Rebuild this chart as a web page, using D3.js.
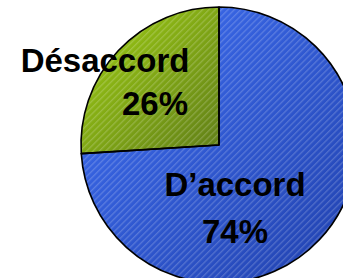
<!DOCTYPE html>
<html>
<head>
<meta charset="utf-8">
<script src="https://cdn.jsdelivr.net/npm/d3@7"></script>
<style>
  body { margin: 0; background: #fff; }
  svg { display: block; }
</style>
</head>
<body>
<script>
// data
var categories = ["D\u2019accord", "Désaccord"];
var values = [74, 26];
var percentLabels = ["74%", "26%"];

var width = 343, height = 278;
var cx = 219, cy = 145, radius = 138;

var svg = d3.select("body").append("svg").attr("width", width).attr("height", height);
var defs = svg.append("defs");

// gradients per slice bbox: light top-left, dark bottom-right
var grads = [
  {id: "gBlue", c0: "#3f70f4", c1: "#2040ac"},
  {id: "gGreen", c0: "#a0d012", c1: "#607e18"}
];
grads.forEach(function(g) {
  var lg = defs.append("linearGradient").attr("id", g.id)
    .attr("x1", "0%").attr("y1", "0%")
    .attr("x2", "100%").attr("y2", "100%");
  lg.append("stop").attr("offset", "0%").attr("stop-color", g.c0);
  lg.append("stop").attr("offset", "100%").attr("stop-color", g.c1);
});

// diagonal hatch
var pat = defs.append("pattern").attr("id", "hatch")
  .attr("patternUnits", "userSpaceOnUse")
  .attr("width", 4.5).attr("height", 4.5)
  .attr("patternTransform", "rotate(45)");
pat.append("rect").attr("x", 0).attr("y", 0).attr("width", 1.3).attr("height", 4.5)
  .attr("fill", "#ffffff").attr("fill-opacity", 0.2);

var fills = ["url(#gBlue)", "url(#gGreen)"];

var pie = d3.pie().sort(null).value(function(d) { return d; });
var arc = d3.arc().innerRadius(0).outerRadius(radius);
var arcs = pie(values);

var g = svg.append("g").attr("transform", "translate(" + cx + "," + cy + ")");

g.selectAll("path.slice").data(arcs).enter().append("path")
  .attr("class", "slice")
  .attr("d", arc)
  .attr("fill", function(d, i) { return fills[i]; });

g.selectAll("path.hatch").data(arcs).enter().append("path")
  .attr("class", "hatch")
  .attr("d", arc)
  .attr("fill", "url(#hatch)");

g.selectAll("path.outline").data(arcs).enter().append("path")
  .attr("class", "outline")
  .attr("d", arc)
  .attr("fill", "none")
  .attr("stroke", "#000")
  .attr("stroke-width", 1.6)
  .attr("stroke-linejoin", "round");

// label layout (relative to pie centre)
var labelPos = [
  {name: [16, 51], pct: [16, 98]},
  {name: [-114, -73], pct: [-64, -30]}
];

var font = "'Liberation Sans', Arial, sans-serif";
arcs.forEach(function(d, i) {
  g.append("text")
    .attr("x", labelPos[i].name[0]).attr("y", labelPos[i].name[1])
    .attr("text-anchor", "middle")
    .attr("font-family", font).attr("font-weight", "bold")
    .attr("font-size", 33).attr("fill", "#000")
    .text(categories[i]);
  g.append("text")
    .attr("x", labelPos[i].pct[0]).attr("y", labelPos[i].pct[1])
    .attr("text-anchor", "middle")
    .attr("font-family", font).attr("font-weight", "bold")
    .attr("font-size", 33).attr("fill", "#000")
    .text(percentLabels[i]);
});
</script>
</body>
</html>
